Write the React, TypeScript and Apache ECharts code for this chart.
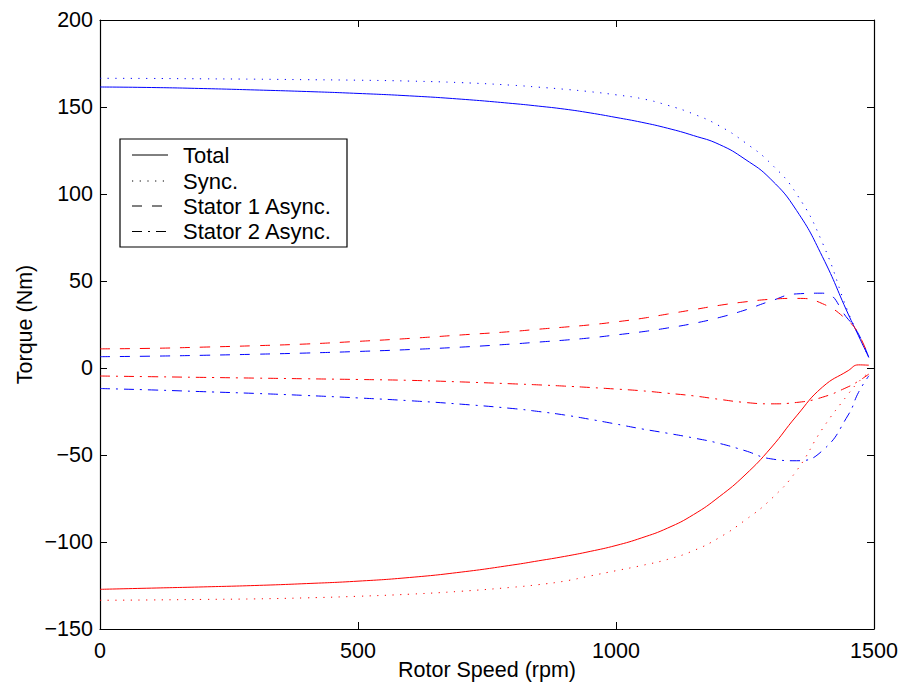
import React, { useEffect, useRef } from "react";
import * as echarts from "echarts";

const rpm = [0, 100, 200, 300, 400, 500, 600, 700, 800, 850, 900, 950, 1000, 1050, 1100, 1150, 1200, 1250, 1300, 1350, 1400, 1450, 1470, 1490];

const totalBlue = [161.5, 161.2, 160.6, 159.8, 158.9, 157.8, 156.4, 154.5, 152, 150.5, 148.8, 146.6, 144, 141.2, 137.8, 133.6, 128.5, 120, 108.5, 90.5, 64, 31, 18.5, 6];
const syncBlue = [166.5, 166.4, 166.2, 166, 165.7, 165.4, 164.9, 164, 162.5, 161.4, 160.2, 158.8, 157, 154.8, 151, 146, 139.2, 129.6, 117.5, 100, 72, 32, 19, 6];
const stator1Blue = [6.5, 6.8, 7.3, 7.9, 8.6, 9.5, 10.6, 12, 13.8, 14.9, 16, 17.3, 19, 20.8, 23, 25.6, 29, 33.3, 38.5, 42.6, 43, 28, 19.5, 6];
const stator2Blue = [-11.8, -12.6, -13.6, -14.6, -15.8, -17.2, -18.8, -20.8, -23.3, -25, -27, -29.5, -32.2, -35, -37.5, -40.2, -43.3, -47.5, -52.2, -53.3, -47.5, -27, -14, -4.5];

const totalRed = [-127.2, -126.5, -125.8, -125, -123.9, -122.5, -120.4, -117.3, -113.2, -110.8, -108.3, -105.4, -102, -97.6, -92, -84.3, -74, -61.5, -46, -27.5, -11, -1.5, 1.8, 1.6];
const syncRed = [-133.5, -133.3, -133, -132.7, -132.1, -131.2, -130, -128.3, -126, -124.5, -122.5, -119.5, -116.5, -113.5, -110, -105, -97.5, -87.5, -75.5, -59, -35, -15, -8, -2.5];
const stator1Red = [11, 11.3, 12, 12.8, 13.8, 15.3, 17, 19, 21, 22.3, 23.5, 24.8, 26.5, 28.5, 31, 33.5, 36, 38, 39.5, 40, 37, 27, 19.5, 6];
const stator2Red = [-4.6, -5, -5.4, -5.8, -6.2, -6.6, -7.1, -8, -9.1, -9.7, -10.4, -11.2, -12.1, -13.1, -14.5, -16, -18, -19.8, -20.6, -19.8, -16.8, -10.8, -7.5, -3.5];

const xTicks = { min: 0, max: 1500, interval: 500 };
const yTicks = { min: -150, max: 200, interval: 50 };

const legendNames = ["Total", "Sync.", "Stator 1 Async.", "Stator 2 Async."];

const FONT = "'Liberation Sans', Arial, Helvetica, sans-serif";
const BLUE = "#0000ff";
const RED = "#ff0000";
const DASHES: Record<string, number[] | "solid"> = {
  solid: "solid",
  dotted: [1.2, 6.5],
  dashed: [10, 10],
  dashdot: [10, 6, 2, 6],
};

function pair(a: number[]): number[][] {
  return rpm.map((x, i) => [x, a[i]]);
}

function mkSeries(name: string, data: number[], color: string, dash: string) {
  return {
    name,
    type: "line",
    data: pair(data),
    xAxisIndex: 0,
    yAxisIndex: 0,
    showSymbol: false,
    symbol: "none",
    smooth: 0.5,
    lineStyle: { color, width: 1, type: DASHES[dash] },
    z: 3,
  };
}

const fmt = (v: number) => String(v).replace("-", "\u2212");

export default function App() {
  const ref = useRef<HTMLDivElement>(null);
  useEffect(() => {
    if (!ref.current) return;
    const chart = echarts.init(ref.current, undefined, { renderer: "svg" });

    const axisLine = { show: true, onZero: false, lineStyle: { color: "#000", width: 1.2 } };
    const axisTick = { show: true, inside: true, length: 7, lineStyle: { color: "#000", width: 1 } };
    const label = { color: "#000", fontSize: 21.5, fontFamily: FONT };

    const legendX0 = 132;
    const legendX1 = 168;
    const rowsY = [155, 181, 206, 231.5];
    const legendDash = ["solid", "dotted", "dashed", "dashdot"];
    const graphics: any[] = [
      {
        type: "rect",
        shape: { x: 120, y: 139, width: 227, height: 108 },
        style: { fill: "#fff", stroke: "#000", lineWidth: 1.2 },
        z: 10,
      },
    ];
    legendNames.forEach((n, i) => {
      const d = DASHES[legendDash[i]];
      graphics.push({
        type: "line",
        shape: { x1: legendX0, y1: rowsY[i], x2: legendX1, y2: rowsY[i] },
        style: { stroke: "#000", lineWidth: 1, lineDash: d === "solid" ? null : d },
        z: 11,
      });
      graphics.push({
        type: "text",
        x: 183,
        y: rowsY[i],
        style: { text: n, fill: "#000", fontSize: 22, fontFamily: FONT, verticalAlign: "middle" },
        z: 11,
      });
    });

    chart.setOption({
      animation: false,
      backgroundColor: "#fff",
      grid: { left: 100, right: 27, top: 20, bottom: 58, containLabel: false, outerBoundsMode: "none" },
      xAxis: [
        {
          type: "value",
          position: "bottom",
          ...xTicks,
          axisLine,
          axisTick,
          splitLine: { show: false },
          axisLabel: { ...label, margin: 11, formatter: fmt, showMaxLabel: true, showMinLabel: true },
          name: "Rotor Speed (rpm)",
          nameLocation: "middle",
          nameGap: 30,
          nameMoveOverlap: false,
          nameTextStyle: { ...label },
        },
        {
          type: "value",
          position: "top",
          ...xTicks,
          axisLine,
          axisTick,
          splitLine: { show: false },
          axisLabel: { show: false },
        },
      ],
      yAxis: [
        {
          type: "value",
          position: "left",
          ...yTicks,
          axisLine,
          axisTick,
          splitLine: { show: false },
          axisLabel: { ...label, margin: 7, formatter: fmt },
          name: "Torque (Nm)",
          nameLocation: "middle",
          nameGap: 64,
          nameMoveOverlap: false,
          nameTextStyle: { ...label },
        },
        {
          type: "value",
          position: "right",
          ...yTicks,
          axisLine,
          axisTick,
          splitLine: { show: false },
          axisLabel: { show: false },
        },
      ],
      series: [
        mkSeries("Total B", totalBlue, BLUE, "solid"),
        mkSeries("Sync B", syncBlue, BLUE, "dotted"),
        mkSeries("Stator1 B", stator1Blue, BLUE, "dashed"),
        mkSeries("Stator2 B", stator2Blue, BLUE, "dashdot"),
        mkSeries("Total R", totalRed, RED, "solid"),
        mkSeries("Sync R", syncRed, RED, "dotted"),
        mkSeries("Stator1 R", stator1Red, RED, "dashed"),
        mkSeries("Stator2 R", stator2Red, RED, "dashdot"),
      ],
      graphic: graphics,
    });
    return () => chart.dispose();
  }, []);
  return (
    <div
      ref={ref}
      style={{ position: "fixed", left: 0, top: 0, width: 901, height: 687, background: "#fff" }}
    />
  );
}
